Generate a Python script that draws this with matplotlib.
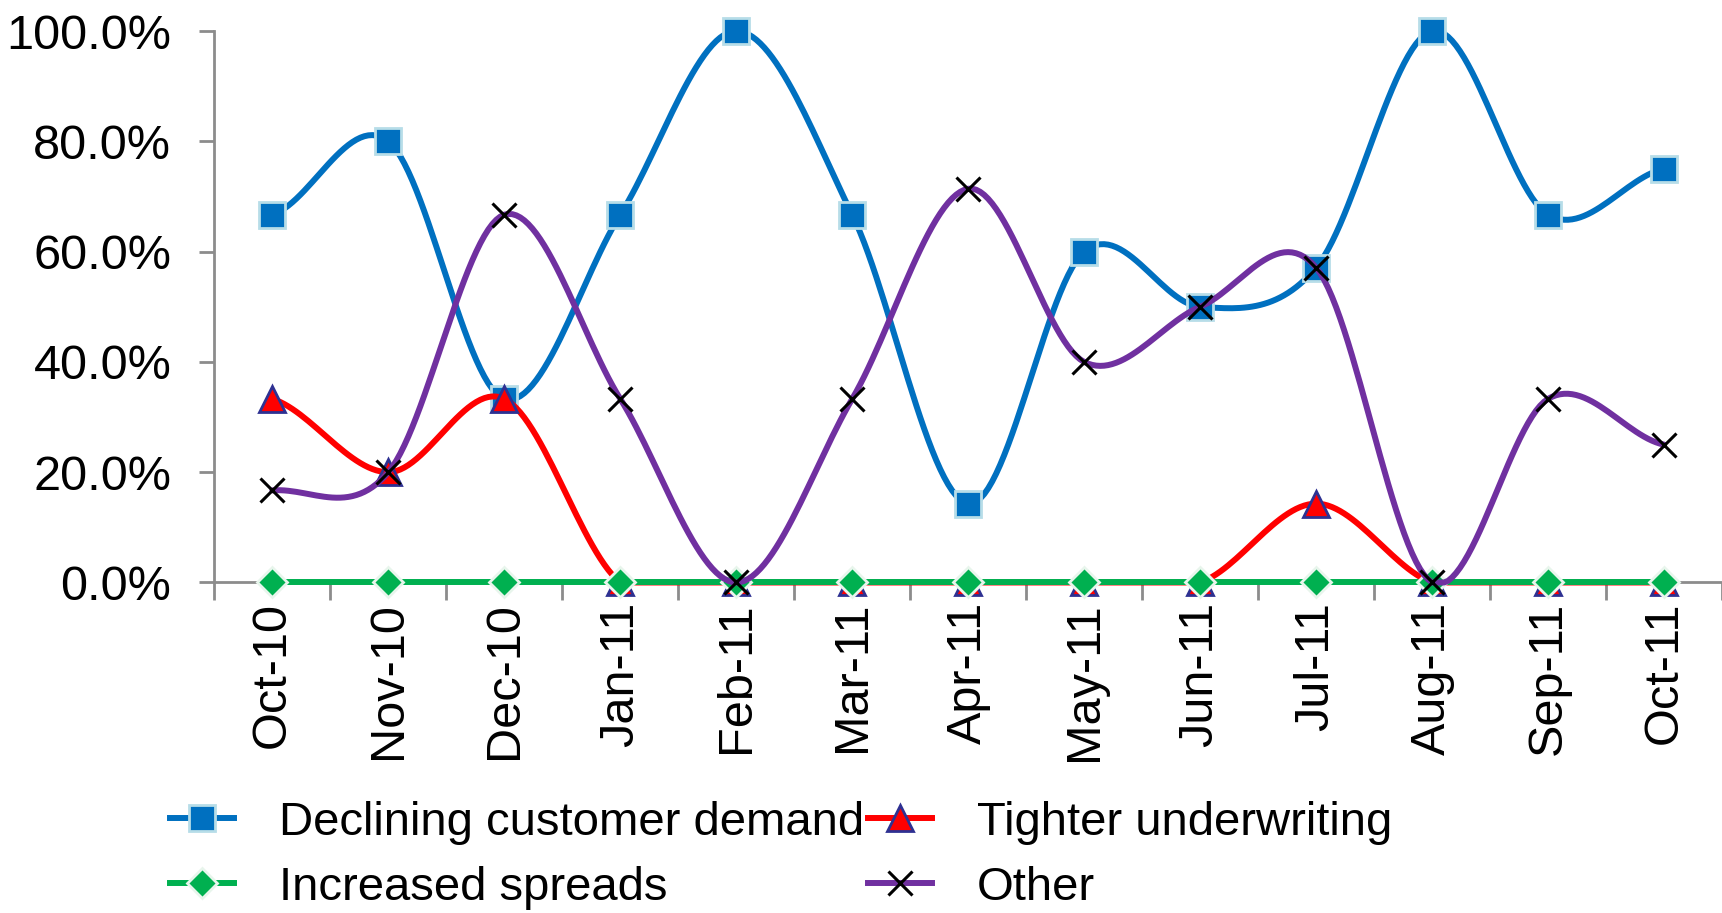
import numpy as np
import matplotlib.pyplot as plt
from matplotlib.ticker import FuncFormatter, FixedLocator

plt.rcParams['font.family'] = ['Liberation Sans', 'DejaVu Sans']

# data (percent)
months = ['Oct-10', 'Nov-10', 'Dec-10', 'Jan-11', 'Feb-11', 'Mar-11', 'Apr-11',
          'May-11', 'Jun-11', 'Jul-11', 'Aug-11', 'Sep-11', 'Oct-11']
declining = [66.7, 80.0, 33.3, 66.7, 100.0, 66.7, 14.3, 60.0, 50.0, 57.1, 100.0, 66.7, 75.0]
tighter = [33.3, 20.0, 33.3, 0, 0, 0, 0, 0, 0, 14.3, 0, 0, 0]
spreads = [0, 0, 0, 0, 0, 0, 0, 0, 0, 0, 0, 0, 0]
other = [16.7, 20.0, 66.7, 33.3, 0, 33.3, 71.4, 40.0, 50.0, 57.1, 0, 33.3, 25.0]


def smooth(y, n=30):
    # Catmull-Rom style bezier smoothing, like Excel's smoothed line
    y = np.asarray(y, float)
    x = np.arange(len(y), dtype=float)
    xs, ys = [], []
    for i in range(len(y) - 1):
        p0 = y[i - 1] if i > 0 else y[i]
        p3 = y[i + 2] if i + 2 < len(y) else y[i + 1]
        c1 = y[i] + (y[i + 1] - p0) / 6
        c2 = y[i + 1] - (p3 - y[i]) / 6
        t = np.linspace(0, 1, n)
        b = (1 - t) ** 3 * y[i] + 3 * (1 - t) ** 2 * t * c1 + 3 * (1 - t) * t ** 2 * c2 + t ** 3 * y[i + 1]
        xs.append(x[i] + t)
        ys.append(b)
    return np.concatenate(xs), np.clip(np.concatenate(ys), 0, None)


fig = plt.figure(figsize=(17.22, 9.13), dpi=100)
ax = fig.add_axes([0.1245, 0.362, 0.8755, 0.604])
x = np.arange(len(months))

styles = [
    ('Declining customer demand', declining, '#0070c0', 's', '#0070c0', '#b7dde8', 19),
    ('Tighter underwriting', tighter, '#ff0000', '^', '#ff0000', '#2e3192', 19),
    ('Increased spreads', spreads, '#00b050', 'D', '#00b050', '#e8f5ec', 15),
    ('Other', other, '#7030a0', 'x', 'black', 'black', 17),
]

handles = []
for label, vals, col, mk, fc, ec, ms in styles:
    sx, sy = smooth(vals)
    ax.plot(sx, sy, color=col, lw=4.3, clip_on=False, solid_capstyle='round')
    ax.plot(x, vals, ls='none', marker=mk, ms=ms, mfc=fc, mec=ec,
            mew=2.0 if mk != 'x' else 2.2, clip_on=False)
    h, = ax.plot([], [], color=col, lw=4.3, marker=mk, ms=ms, mfc=fc, mec=ec,
                 mew=2.0 if mk != 'x' else 2.2)
    h.set_label(label)
    handles.append(h)

ax.set_xlim(-0.5, len(months) - 0.5)
ax.set_ylim(0, 100)
ax.set_yticks([0, 20, 40, 60, 80, 100])
ax.yaxis.set_major_formatter(FuncFormatter(lambda v, p: f'{v:.1f}%'))
ax.set_xticks(x)
ax.set_xticklabels(months, rotation=90)
ax.xaxis.set_minor_locator(FixedLocator(np.arange(-0.5, len(months), 1.0)))

for s in ['top', 'right']:
    ax.spines[s].set_visible(False)
for s in ['left', 'bottom']:
    ax.spines[s].set_color('#8c8c8c')
    ax.spines[s].set_linewidth(2)
ax.spines['left'].set_zorder(0)
ax.spines['bottom'].set_zorder(0)

ax.tick_params(axis='y', which='major', length=11, width=2, color='#8c8c8c',
               labelsize=35, pad=20)
ax.tick_params(axis='x', which='major', length=0, labelsize=35, pad=14)
ax.tick_params(axis='x', which='minor', length=13, width=2, color='#8c8c8c')

# legend fills column-wise, so order gives rows: Declining/Tighter, Increased/Other
order = [handles[0], handles[2], handles[1], handles[3]]
fig.legend(handles=order, labels=[h.get_label() for h in order], ncol=2,
           loc='lower left', bbox_to_anchor=(0.074, -0.043), frameon=False,
           fontsize=34, handlelength=1.35, handletextpad=0.95,
           columnspacing=0.1, labelspacing=0.45)

fig.savefig('out.png', dpi=100)
